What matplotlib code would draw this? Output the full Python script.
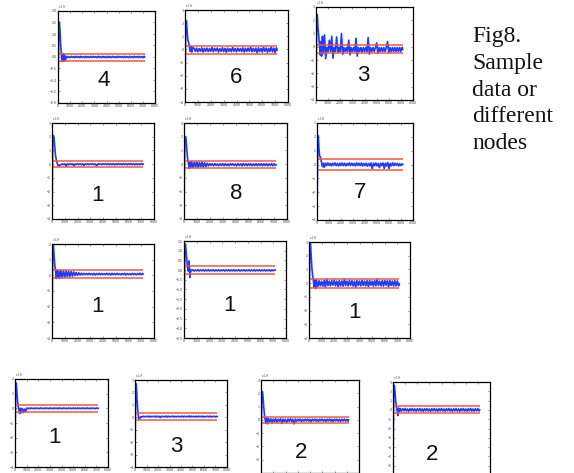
import numpy as np
import matplotlib.pyplot as plt

plt.rcParams.update({
    'font.family': 'sans-serif',
    'font.sans-serif': ['Liberation Sans', 'DejaVu Sans'],
    'axes.linewidth': 0.9,
    'axes.edgecolor': '#000000',
})

# sample index shared by every node trace
T = [0, 25, 60, 110, 160, 220, 280, 340, 400, 460, 530, 600,
     700, 800, 900, 1000, 1100, 1200, 1300, 1400, 1500, 1600, 1700,
     1800, 1900, 2000, 2100, 2200, 2300, 2400, 2500, 2600, 2700, 2800,
     2900, 3000, 3100, 3200, 3300, 3400, 3500, 3600, 3700, 3800, 3900,
     4000, 4100, 4200, 4300, 4400, 4500, 4600, 4700, 4800, 4900, 5000,
     5100, 5200, 5300, 5400, 5500, 5600, 5700, 5800, 5900, 6000, 6100,
     6200, 6300, 6400, 6500, 6600, 6700, 6800, 6900, 7000, 7100, 7150]

NODE_LABELS = ['4', '6', '3', '1', '8', '7', '1', '1', '1', '1', '3', '2', '2']

# y axis: (low, high, step) per panel
Y_RANGES = [(-2, 2, 0.5), (-4, 3, 1), (-4, 3, 1), (-4, 3, 1), (-4, 3, 1),
            (-4, 3, 1), (-4, 2, 1), (-3.5, 1.5, 0.5), (-4, 3, 1), (-4, 2, 1),
            (-4, 3, 1), (-4, 3, 1), (-7, 3, 1)]

RED_HIGH = [0.15, 0.25, 0.17, 0.24, 0.2, 0.41, 0.31, 0.22, 0.27, 0.2, 0.34, 0.25, 0.38]
RED_LOW = [-0.19, -0.36, -0.44, -0.22, -0.29, -0.38, -0.16, -0.225, -0.38, -0.25, -0.22, -0.25, -0.35]

TRACE_A = [-1.67, -0.5, 1.0, 1.52, 1.2, 0.5, 0.1, -0.2, 0.15, -0.18, 0.12, -0.17,
           0.03, -0.02, 0.02, -0.03, 0.03, -0.02, 0.02, -0.03, 0.03, -0.02, 0.02,
           -0.03, 0.03, -0.02, 0.02, -0.03, 0.03, -0.02, 0.02, -0.03, 0.03, -0.02,
           0.03, -0.02, 0.02, -0.03, 0.03, -0.02, 0.02, -0.03, 0.03, -0.02, 0.02,
           -0.03, 0.03, -0.02, 0.02, -0.03, 0.03, -0.02, 0.02, -0.03, 0.03, -0.02,
           0.03, -0.02, 0.02, -0.03, 0.03, -0.02, 0.02, -0.03, 0.03, -0.02, 0.02,
           -0.03, 0.03, -0.02, 0.02, -0.03, 0.03, -0.02, 0.02, -0.03, 0.03, 0.0]
TRACE_B = [-2.99, -1.0, 1.8, 2.19, 1.5, 0.7, 0.55, 0.2, -0.15, 0.25, -0.2, 0.15,
           0.08, -0.15, 0.1, -0.18, 0.06, -0.14, 0.12, -0.2, 0.08, -0.15, 0.1,
           -0.16, 0.07, -0.14, 0.15, -0.18, 0.08, -0.12, 0.1, -0.2, 0.06, -0.15,
           0.12, -0.16, 0.08, -0.22, 0.1, -0.14, 0.06, -0.17, 0.14, -0.15, 0.08,
           -0.18, 0.1, -0.13, 0.07, -0.16, 0.12, -0.2, 0.08, -0.15, 0.1, -0.14,
           0.16, -0.18, 0.08, -0.15, 0.1, -0.25, 0.12, -0.16, 0.08, -0.2, 0.18,
           -0.15, 0.1, -0.22, 0.08, -0.16, 0.2, -0.18, 0.1, -0.25, 0.12, -0.05]
TRACE_C = [-3.27, -1.2, 2.0, 2.44, 1.5, 0.9, 0.2, -0.6, 0.4, -0.7, 0.8, -0.5,
           0.9, -0.9, -0.05, -0.35, 0.5, -0.35, 0.8, -0.85, -0.05, -0.35, 0.75,
           -0.4, -0.05, -0.35, 1.0, -0.55, -0.05, -0.35, -0.05, -0.35, 0.5, -0.6,
           -0.05, -0.35, -0.05, -0.35, 0.65, -0.7, -0.05, -0.35, -0.05, -0.4, -0.05,
           -0.35, -0.05, -0.35, 0.7, -0.55, -0.05, -0.35, -0.05, -0.35, -0.05, 0.3,
           -0.5, -0.05, -0.35, -0.05, -0.35, -0.05, -0.35, -0.05, 0.4, -0.45, -0.05,
           -0.35, -0.05, -0.35, -0.05, -0.35, -0.05, -0.35, -0.05, -0.35, -0.05, -0.2]
TRACE_D = [-3.27, -1.5, 1.6, 2.09, 1.9, 1.2, 0.6, 0.3, 0.1, -0.1, -0.05, -0.12,
           -0.05, 0.03, -0.04, 0.02, -0.15, 0.03, -0.04, 0.02, -0.03, 0.03, -0.12,
           0.02, -0.04, 0.03, -0.03, 0.02, -0.04, 0.03, -0.1, 0.02, -0.03, 0.03,
           -0.04, 0.02, -0.03, 0.03, -0.04, 0.02, -0.12, 0.03, -0.03, 0.02, -0.04,
           0.03, -0.03, 0.04, -0.04, 0.03, -0.05, 0.03, -0.04, 0.04, -0.05, 0.03,
           -0.04, 0.05, -0.04, 0.03, -0.05, 0.04, -0.04, 0.03, -0.05, 0.04, -0.04,
           0.05, -0.04, 0.03, -0.05, 0.04, -0.05, 0.03, -0.04, 0.05, -0.04, 0.0]
TRACE_E = [-3.44, -1.2, 1.5, 2.02, 1.8, 1.0, 0.4, 0.1, -0.3, 0.15, -0.25, 0.2,
           -0.25, 0.15, -0.22, 0.18, -0.25, 0.12, -0.2, 0.15, -0.22, 0.1, -0.18,
           0.06, -0.12, 0.04, -0.1, 0.03, -0.12, 0.04, -0.1, 0.02, -0.12, 0.03,
           -0.1, 0.04, -0.12, 0.03, -0.1, 0.02, -0.12, 0.04, -0.08, 0.03, -0.1,
           0.02, -0.12, 0.04, -0.1, 0.03, -0.12, 0.05, -0.1, 0.03, -0.12, 0.04,
           -0.1, 0.03, -0.12, 0.02, -0.1, 0.04, -0.12, 0.03, -0.1, 0.04, -0.12,
           0.03, -0.1, 0.04, -0.12, 0.02, -0.1, 0.04, -0.12, 0.03, -0.1, -0.05]
TRACE_F = [-3.35, -1.5, 1.7, 2.09, 1.2, 0.6, 0.55, 0.3, 0.05, -0.15, 0.1, -0.2,
           0.1, -0.08, 0.12, -0.06, 0.08, -0.1, 0.1, -0.06, 0.12, -0.08, 0.08,
           -0.1, 0.1, -0.07, 0.12, -0.08, 0.1, -0.1, 0.08, -0.06, 0.12, -0.08,
           0.1, -0.07, 0.08, -0.1, 0.12, -0.06, 0.1, -0.08, 0.12, -0.1, 0.08,
           -0.08, 0.1, -0.12, 0.08, -0.1, 0.12, -0.3, 0.1, -0.08, 0.12, -0.1,
           0.08, -0.22, 0.1, -0.08, 0.12, -0.28, 0.1, -0.1, 0.15, -0.3, 0.08,
           -0.1, 0.12, -0.08, 0.1, -0.06, 0.08, -0.1, 0.06, -0.08, 0.05, 0.02]
TRACE_G = [-3.3, -1.0, 1.8, 2.0, 1.3, 0.6, 0.3, -0.2, 0.35, -0.15, 0.3, -0.2,
           0.32, -0.15, 0.3, -0.12, 0.28, -0.1, 0.26, -0.08, 0.25, -0.05, 0.22,
           -0.02, 0.18, 0.0, 0.16, 0.02, 0.14, 0.03, 0.13, 0.04, 0.12, 0.03,
           0.13, 0.04, 0.12, 0.03, 0.13, 0.02, 0.12, 0.04, 0.13, 0.03, 0.12,
           0.04, 0.11, 0.03, 0.13, 0.04, 0.12, 0.02, 0.13, 0.04, 0.12, 0.03,
           0.13, 0.04, 0.11, 0.03, 0.12, 0.04, 0.13, 0.02, 0.12, 0.04, 0.11,
           0.03, 0.13, 0.04, 0.12, 0.03, 0.11, 0.04, 0.13, 0.03, 0.12, 0.08]
TRACE_H = [-3.25, -1.0, 1.1, 1.35, 1.0, 0.5, 0.15, -0.05, 0.475, -0.375, 0.02, -0.03,
           0.02, -0.05, 0.01, -0.04, 0.02, -0.05, 0.01, -0.04, 0.02, -0.05, 0.01,
           -0.04, 0.02, -0.05, 0.01, -0.04, 0.02, -0.05, 0.01, -0.04, 0.02, -0.05,
           0.01, -0.04, 0.02, -0.05, 0.01, -0.04, 0.02, -0.05, 0.01, -0.04, 0.02,
           -0.05, 0.01, -0.04, 0.02, -0.05, 0.01, -0.04, 0.02, -0.05, 0.01, -0.04,
           0.02, -0.05, 0.01, -0.04, 0.02, -0.05, 0.01, -0.04, 0.02, -0.05, 0.01,
           -0.04, 0.02, -0.05, 0.01, -0.04, 0.02, -0.05, 0.01, -0.04, 0.02, 0.0]
TRACE_I = [-3.28, -1.0, 2.5, 3.1, 2.2, 1.2, 0.6, 0.3, -0.3, 0.25, -0.4, 0.2,
           -0.25, 0.18, -0.2, 0.15, -0.22, 0.2, -0.3, 0.32, -0.18, 0.15, -0.2,
           0.18, -0.15, 0.22, -0.2, 0.15, -0.25, 0.18, -0.2, 0.16, -0.22, 0.3,
           -0.18, 0.15, -0.2, 0.2, -0.16, 0.18, -0.22, 0.15, -0.3, 0.2, -0.18,
           0.16, -0.2, 0.22, -0.18, 0.15, -0.2, 0.18, -0.25, 0.2, -0.16, 0.15,
           -0.22, 0.18, -0.2, 0.3, -0.18, 0.15, -0.2, 0.18, -0.22, 0.2, -0.15,
           0.18, -0.28, 0.2, -0.18, 0.15, -0.22, 0.18, -0.2, 0.16, -0.2, -0.05]
TRACE_J = [-3.16, -1.0, 1.4, 1.73, 1.2, 0.5, 0.1, -0.1, -0.35, 0.0, -0.3, 0.0,
           -0.3, -0.05, -0.25, 0.02, -0.03, 0.02, -0.03, 0.03, -0.02, 0.02, -0.03,
           0.03, -0.02, 0.02, -0.03, 0.03, -0.02, 0.02, -0.03, 0.03, -0.02, 0.02,
           -0.03, 0.03, -0.02, 0.02, -0.03, 0.03, -0.02, 0.02, -0.03, 0.03, -0.02,
           0.02, -0.03, 0.03, -0.02, 0.02, -0.03, 0.03, -0.02, 0.02, -0.03, 0.03,
           -0.02, 0.02, -0.03, 0.03, -0.02, 0.02, -0.03, 0.03, -0.02, 0.02, -0.03,
           0.03, -0.02, 0.02, -0.03, 0.03, -0.02, 0.02, -0.03, 0.03, -0.02, 0.0]
TRACE_K = [-3.14, -1.0, 2.2, 2.69, 1.8, 0.8, 0.2, -0.15, -0.1, 0.0, 0.05, 0.02,
           0.09, 0.03, 0.08, 0.04, 0.1, 0.02, 0.09, 0.03, 0.08, 0.04, 0.09,
           0.02, 0.1, 0.03, 0.08, -0.02, 0.09, 0.04, 0.08, 0.03, 0.1, 0.02,
           0.09, 0.03, 0.08, 0.04, 0.1, 0.02, 0.08, 0.03, 0.09, 0.04, 0.08,
           0.03, 0.1, 0.02, 0.09, 0.04, 0.08, 0.03, 0.12, 0.02, 0.09, 0.04,
           0.08, 0.03, 0.09, 0.02, 0.1, 0.04, 0.08, 0.03, 0.09, 0.02, 0.08,
           0.04, 0.09, 0.03, 0.1, 0.02, 0.08, 0.04, 0.09, 0.03, 0.08, 0.06]
TRACE_L = [-3.25, -1.0, 1.6, 2.13, 1.8, 1.0, 0.4, 0.0, -0.25, 0.15, -0.3, 0.1,
           -0.15, 0.08, -0.22, 0.06, -0.12, 0.08, -0.18, 0.05, -0.1, 0.08, -0.28,
           0.06, -0.12, 0.05, -0.2, 0.06, -0.1, 0.08, -0.12, 0.05, -0.3, 0.06,
           -0.1, 0.05, -0.08, 0.06, -0.12, 0.04, -0.1, 0.05, -0.08, 0.06, -0.1,
           0.04, -0.12, 0.05, -0.08, 0.06, -0.1, 0.04, -0.12, 0.05, -0.08, 0.06,
           -0.1, 0.04, -0.12, 0.05, -0.08, 0.06, -0.1, 0.04, -0.12, 0.05, -0.08,
           0.06, -0.1, 0.04, -0.12, 0.05, -0.08, 0.06, -0.1, 0.04, -0.1, 0.0]
TRACE_M = [-7.0, -2.0, 2.0, 2.64, 2.0, 1.0, 0.3, -0.1, -0.6, 0.2, -0.2, 0.15,
           -0.12, 0.12, -0.1, 0.15, -0.12, 0.1, -0.15, 0.12, -0.1, 0.14, -0.12,
           0.1, -0.14, 0.12, -0.1, 0.15, -0.12, 0.1, -0.15, 0.12, -0.1, 0.14,
           -0.12, 0.1, -0.15, 0.12, -0.1, 0.14, -0.12, 0.1, -0.14, 0.12, -0.1,
           0.15, -0.12, 0.1, -0.14, 0.12, -0.1, 0.15, -0.12, 0.1, -0.14, 0.12,
           -0.1, 0.14, -0.12, 0.1, -0.15, 0.12, -0.1, 0.14, -0.12, 0.1, -0.14,
           0.12, -0.1, 0.15, -0.12, 0.1, -0.14, 0.12, -0.1, 0.15, -0.12, 0.0]

TRACES = [TRACE_A, TRACE_B, TRACE_C, TRACE_D, TRACE_E, TRACE_F, TRACE_G,
          TRACE_H, TRACE_I, TRACE_J, TRACE_K, TRACE_L, TRACE_M]

X_TICKS = [0, 1000, 2000, 3000, 4000, 5000, 6000, 7000, 8000]

# panel boxes in pixels: left, right, top, bottom
BOXES = [(58, 155, 11, 103), (185, 288, 10, 102), (316, 413, 7, 100),
         (52, 154, 123, 219), (184, 287, 123, 219), (317, 413, 123, 220),
         (52, 154, 244, 338), (184, 286, 241, 338), (309, 410, 242, 338),
         (15, 108, 379, 467), (135, 227, 380, 467), (261, 359, 380, 473),
         (393, 490, 382, 475)]
LABEL_POS = [(0.475, 0.24), (0.50, 0.27), (0.485, 0.26), (0.45, 0.25),
             (0.51, 0.27), (0.45, 0.28), (0.45, 0.33), (0.45, 0.34),
             (0.455, 0.27), (0.43, 0.33), (0.45, 0.24), (0.41, 0.22),
             (0.40, 0.22)]
# bottom row right panels run off the page, their x labels are not shown
RUNS_OFF = [False] * 11 + [True, True]

W, H = 574, 473
BLUE = '#1f3cff'
RED = '#f2553c'

fig = plt.figure(figsize=(W / 100, H / 100), dpi=100)

for i, (l, r, t, b) in enumerate(BOXES):
    ax = fig.add_axes([l / W, 1 - b / H, (r - l) / W, (b - t) / H])
    lo, hi, step = Y_RANGES[i]
    ax.plot(T, TRACES[i], color=BLUE, linewidth=1.2, solid_joinstyle='round')
    ax.hlines([RED_HIGH[i], RED_LOW[i]], T[0], T[-1], color=RED, linewidth=1.2,
              alpha=0.9)
    ax.set_xlim(0, 8000)
    ax.set_ylim(lo, hi)
    ax.set_xticks(X_TICKS)
    first = lo + step if RUNS_OFF[i] else lo
    ax.set_yticks(np.arange(first, hi + step / 2, step))
    ax.tick_params(direction='in', top=True, right=True, length=1.5, width=0.4,
                   labelsize=2.5, pad=1, colors='#444444',
                   labelbottom=not RUNS_OFF[i])
    ax.text(0.0, 1.005, r'x 10$^5$', transform=ax.transAxes, fontsize=2.2,
            color='#444444', va='bottom', ha='left')
    ax.text(LABEL_POS[i][0], LABEL_POS[i][1], NODE_LABELS[i], transform=ax.transAxes,
            fontsize=16, ha='center', va='center', color='#111111')

fig.text(472 / W, 1 - 26 / H, 'Fig8.\nSample\ndata or\ndifferent\nnodes',
         family='Liberation Serif', fontsize=17, va='top', ha='left',
         linespacing=1.36, color='#111111')

plt.savefig('out.png', dpi=100)
plt.close()
